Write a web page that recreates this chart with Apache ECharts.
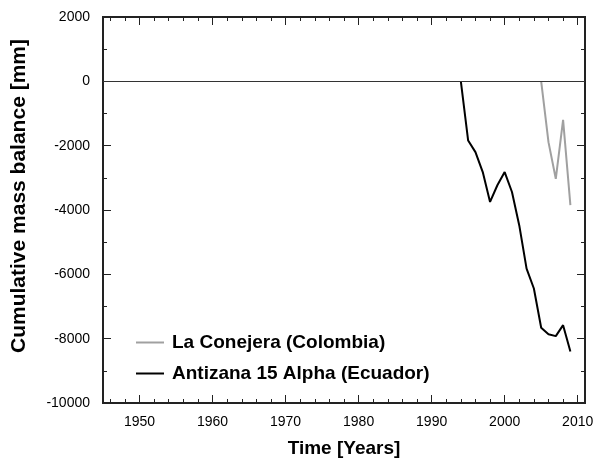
<!DOCTYPE html>
<html>
<head>
<meta charset="utf-8">
<script src="https://cdn.jsdelivr.net/npm/echarts@6/dist/echarts.min.js"></script>
<style>
  html, body { margin: 0; padding: 0; background: #fff; }
  #main { width: 597px; height: 463px; }
</style>
</head>
<body>
<div id="main"></div>
<script>
// data
var antizanaYears = [1994, 1995, 1996, 1997, 1998, 1999, 2000, 2001, 2002, 2003, 2004, 2005, 2006, 2007, 2008, 2009];
var antizanaBalance = [0, -1840, -2200, -2820, -3750, -3230, -2820, -3440, -4480, -5820, -6440, -7660, -7860, -7920, -7580, -8400];
var conejeraYears = [2005, 2006, 2007, 2008, 2009];
var conejeraBalance = [0, -1890, -3030, -1200, -3850];

var xTickLabels = [1950, 1960, 1970, 1980, 1990, 2000, 2010];
var xMinorTicks = [1946, 1948, 1952, 1954, 1956, 1958, 1962, 1964, 1966, 1968, 1972, 1974, 1976, 1978,
  1982, 1984, 1986, 1988, 1992, 1994, 1996, 1998, 2002, 2004, 2006, 2008];
var yTickLabels = [2000, 0, -2000, -4000, -6000, -8000, -10000];

function pairs(xs, ys) {
  return xs.map(function (x, i) { return [x, ys[i]] })
}

var chart = echarts.init(document.getElementById('main'));
var font = "'Liberation Sans', Arial, sans-serif";
var axisCol = '#222';
var plain = function (v) { return String(v) };

function xAx(pos, withLabels, ticks, len) {
  return {
    type: 'value', position: pos, min: 1945, max: 2011,
    axisLine: { show: true, onZero: false, lineStyle: { color: axisCol, width: 2 } },
    axisTick: { show: true, inside: true, length: len, customValues: ticks, lineStyle: { color: axisCol, width: 1 } },
    axisLabel: withLabels ? { show: true, customValues: xTickLabels, formatter: plain, margin: 12, color: '#000', fontSize: 14, fontFamily: font } : { show: false },
    splitLine: { show: false }
  }
}

function yAx(pos, withLabels) {
  return {
    type: 'value', position: pos, min: -10000, max: 2000, interval: 2000,
    axisLine: { show: true, onZero: false, lineStyle: { color: axisCol, width: 2 } },
    axisTick: { show: true, inside: true, length: 8, lineStyle: { color: axisCol, width: 1 } },
    minorTick: { show: true, splitNumber: 2, length: 4, lineStyle: { color: axisCol, width: 1 } },
    axisLabel: withLabels ? { show: true, customValues: yTickLabels, formatter: plain, margin: 13, color: '#000', fontSize: 14, fontFamily: font } : { show: false },
    splitLine: { show: false }
  }
}

var xBottom = xAx('bottom', true, xTickLabels, 8);
xBottom.name = 'Time [Years]';
xBottom.nameLocation = 'middle';
xBottom.nameGap = 36;
xBottom.nameTextStyle = { fontSize: 19, fontWeight: 'bold', color: '#000', fontFamily: font };

var yLeft = yAx('left', true);
yLeft.name = 'Cumulative mass balance [mm]';
yLeft.nameLocation = 'middle';
yLeft.nameGap = 73;
// title sits a bit above the plot centre in the original
yLeft.nameTextStyle = { fontSize: 21, fontWeight: 'bold', color: '#000', fontFamily: font, padding: [0, 0, 0, 28] };

var option = {
  animation: false,
  backgroundColor: '#fff',
  grid: { left: 103, right: 12, top: 17, bottom: 59, containLabel: false },
  legend: {
    orient: 'vertical', left: 131, top: 327,
    icon: 'rect', itemWidth: 28, itemHeight: 2, itemGap: 10,
    textStyle: { fontSize: 19, fontWeight: 'bold', color: '#000', fontFamily: font, lineHeight: 21, padding: [0, 0, 0, 3] },
    data: ['La Conejera (Colombia)', 'Antizana 15 Alpha (Ecuador)']
  },
  xAxis: [
    xBottom,
    xAx('bottom', false, xMinorTicks, 4),
    xAx('top', false, xTickLabels, 8),
    xAx('top', false, xMinorTicks, 4)
  ],
  yAxis: [yLeft, yAx('right', false)],
  series: [
    {
      name: 'La Conejera (Colombia)', type: 'line', xAxisIndex: 0, yAxisIndex: 0,
      data: pairs(conejeraYears, conejeraBalance),
      symbol: 'none', color: '#a0a0a0',
      lineStyle: { color: '#a0a0a0', width: 2 }, z: 3
    },
    {
      name: 'Antizana 15 Alpha (Ecuador)', type: 'line', xAxisIndex: 0, yAxisIndex: 0,
      data: pairs(antizanaYears, antizanaBalance),
      symbol: 'none', color: '#000',
      lineStyle: { color: '#000', width: 2 }, z: 4,
      markLine: {
        silent: true, symbol: 'none', label: { show: false },
        lineStyle: { color: '#333', width: 1, type: 'solid' },
        data: [{ yAxis: 0 }]
      }
    }
  ]
};
chart.setOption(option);
</script>
</body>
</html>
